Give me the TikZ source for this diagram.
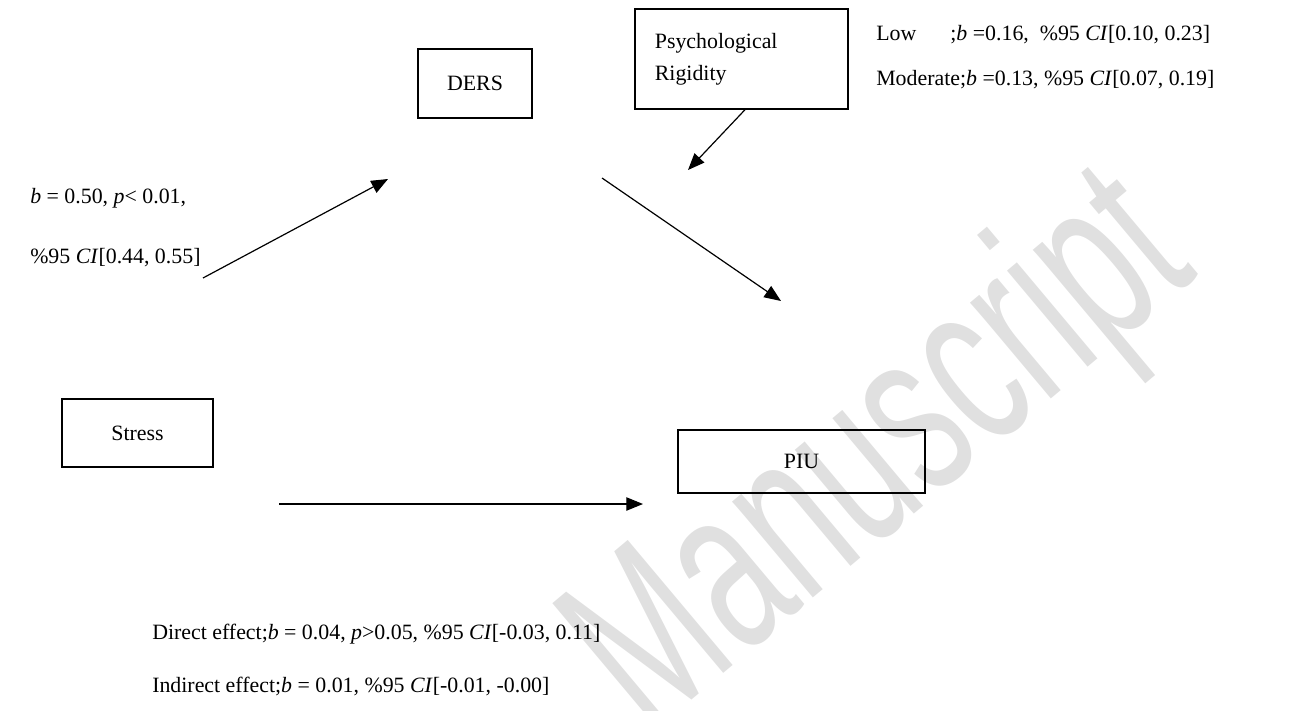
\documentclass[tikz,border=0pt]{standalone}
\usepackage{fontspec}
\setmainfont{Liberation Serif}
\newfontfamily\markfont{Liberation Sans}
\usetikzlibrary{arrows.meta}

\begin{document}
\begin{tikzpicture}[x=0.75pt,y=-0.75pt,font=\fontsize{16.4}{24}\selectfont]

    \tikzset{
      box/.style={
        draw,
        line width=1.1pt,
        inner sep=0pt,
        align=center,
      },
      link/.style={
        line width=0.9pt,
        -{Triangle[length=12.5pt,width=10pt]},
      },
      note/.style={
        anchor=west,
        inner sep=0pt,
      },
    }
    \useasboundingbox (0,0) rectangle (1312,710);
    \node[text=black!12,rotate=40,xscale=0.62,font=\markfont\fontsize{178}{180}\selectfont] (stamp) at (885,458) {Manuscript};

    \node[box,minimum width=85.5pt,minimum height=51.75pt] (ders) at (475,83.5) {DERS};
    \node[box,minimum width=159.75pt,minimum height=75pt,text width=130pt,align=left] (rigid) at (741.5,59) {Psychological\\Rigidity};
    \node[box,minimum width=113.25pt,minimum height=51pt] (stress) at (137.5,433) {Stress};
    \node[box,minimum width=185.25pt,minimum height=47.25pt] (piu) at (801.5,461.5) {PIU};

    \coordinate (a1) at (203,278);
    \coordinate (a2) at (388,179);
    \coordinate (m1) at (688,170);
    \coordinate (b1) at (602,178);
    \coordinate (b2) at (781,301);
    \coordinate (c1) at (279,504);
    \coordinate (c2) at (643,504);

    \draw[link] (a1) -- (a2);
    \draw[link] ([xshift=2.6pt]rigid.south) -- (m1);
    \draw[link] (b1) -- (b2);
    \draw[link] (c1) -- (c2);

    \node[note] (apath1) at (30,198) {\textit{b} = 0.50, \textit{p}< 0.01,};
    \node[note] (apath2) at (30,258) {\%95 \textit{CI}[0.44, 0.55]};
    \node[note] (low) at (876,35) {\rlap{Low}\phantom{Moderat};\textit{b} =0.16,\ \ \%95 \textit{CI}[0.10, 0.23]};
    \node[note] (mod) at (876,80) {Moderate;\textit{b} =0.13, \%95 \textit{CI}[0.07, 0.19]};
    \node[note] (direct) at (152,634) {Direct effect;\textit{b} = 0.04, \textit{p}>0.05, \%95 \textit{CI}[-0.03, 0.11]};
    \node[note] (indirect) at (152,686) {Indirect effect;\textit{b} = 0.01, \%95 \textit{CI}[-0.01, -0.00]};

\end{tikzpicture}
\end{document}
